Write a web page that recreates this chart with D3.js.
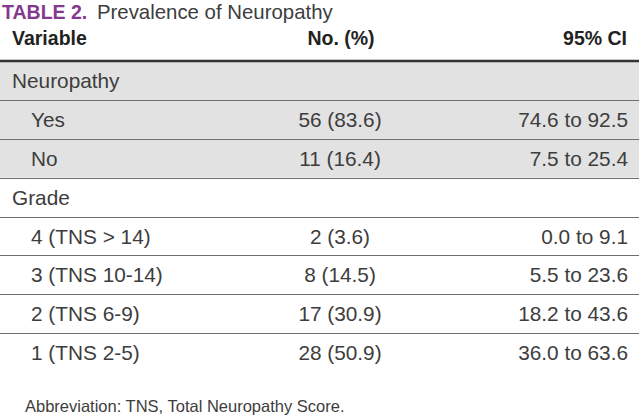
<!DOCTYPE html>
<html>
<head>
<meta charset="utf-8">
<script src="https://cdn.jsdelivr.net/npm/d3@7/dist/d3.min.js"></script>
<style>
  html, body { margin: 0; padding: 0; background: #fff; }
  svg { display: block; }
  text { font-family: "Liberation Sans", Arial, sans-serif; }
</style>
</head>
<body>
<svg id="chart" width="639" height="418"></svg>
<script>
// ---- data ----
const tableLabel = "TABLE 2.";
const tableTitle = "Prevalence of Neuropathy";
const headers = ["Variable", "No. (%)", "95% CI"];
const rowLabels = ["Neuropathy", "Yes", "No", "Grade", "4 (TNS > 14)", "3 (TNS 10-14)", "2 (TNS 6-9)", "1 (TNS 2-5)"];
const rowLevel = [0, 1, 1, 0, 1, 1, 1, 1];          // 0 = group heading, 1 = sub-row
const rowShaded = [true, true, true, false, false, false, false, false];
const counts = [null, 56, 11, null, 2, 8, 17, 28];
const percents = ["", "83.6", "16.4", "", "3.6", "14.5", "30.9", "50.9"];
const ciLow = ["", "74.6", "7.5", "", "0.0", "5.5", "18.2", "36.0"];
const ciHigh = ["", "92.5", "25.4", "", "9.1", "23.6", "43.6", "63.6"];
const footnote = "Abbreviation: TNS, Total Neuropathy Score.";

// ---- layout ----
const W = 639, H = 418;
const svg = d3.select("#chart");

const rows = rowLabels.map((label, i) => ({
  i, label, level: rowLevel[i], shaded: rowShaded[i],
  count: counts[i] == null ? "" : `${counts[i]} (${percents[i]})`,
  ci: ciLow[i] ? `${ciLow[i]} to ${ciHigh[i]}` : ""
}));

const y = d3.scaleBand().domain(d3.range(rows.length)).range([61, 372]).paddingInner(0).paddingOuter(0);
const x = d3.scaleOrdinal().domain(["label0", "label1", "count", "ci"]).range([12, 31, 340, 628]);

const textColor = "#3d3d3d";
const fontBody = 20.8;

// title
const title = svg.append("text").attr("x", 2).attr("y", 19);
title.append("tspan").text(tableLabel)
  .attr("font-weight", "bold").attr("fill", "#84398f").attr("font-size", 19.5);
title.append("tspan").text(" " + tableTitle)
  .attr("fill", textColor).attr("font-size", 20.4).attr("dx", 4);

// header
const hdr = svg.append("g");
hdr.append("text").attr("x", x("label0")).attr("y", 45).text(headers[0]);
hdr.append("text").attr("x", x("count") + 1).attr("y", 45).attr("text-anchor", "middle").text(headers[1]);
hdr.append("text").attr("x", x("ci") - 1).attr("y", 45).attr("text-anchor", "end").text(headers[2]);
hdr.selectAll("text").attr("font-weight", "bold").attr("font-size", 19.5).attr("fill", "#222");

// row backgrounds
svg.append("g").selectAll("rect").data(rows.filter(d => d.shaded)).join("rect")
  .attr("x", 0).attr("width", W)
  .attr("y", d => y(d.i)).attr("height", y.bandwidth())
  .attr("fill", "#e2e2e2");

// row separators
svg.append("g").selectAll("line").data(rows.slice(1)).join("line")
  .attr("x1", 0).attr("x2", W)
  .attr("y1", d => Math.round(y(d.i)) + 0.5).attr("y2", d => Math.round(y(d.i)) + 0.5)
  .attr("stroke", "#6e6e6e").attr("stroke-width", 1);

// thick header rule
svg.append("line").attr("x1", 0).attr("x2", W).attr("y1", 61).attr("y2", 61)
  .attr("stroke", "#333").attr("stroke-width", 2.5);

// row text
const rg = svg.append("g").selectAll("g").data(rows).join("g")
  .attr("transform", d => `translate(0,${y(d.i) + 27})`);
rg.append("text").attr("x", d => d.level === 0 ? x("label0") : x("label1"))
  .text(d => d.label);
rg.append("text").attr("x", x("count")).attr("text-anchor", "middle").text(d => d.count);
rg.append("text").attr("x", x("ci")).attr("text-anchor", "end").text(d => d.ci);
rg.selectAll("text").attr("font-size", fontBody).attr("fill", textColor);

// footnote
svg.append("text").attr("x", 25).attr("y", 412).attr("font-size", 16.5)
  .attr("fill", textColor).text(footnote);
</script>
</body>
</html>
